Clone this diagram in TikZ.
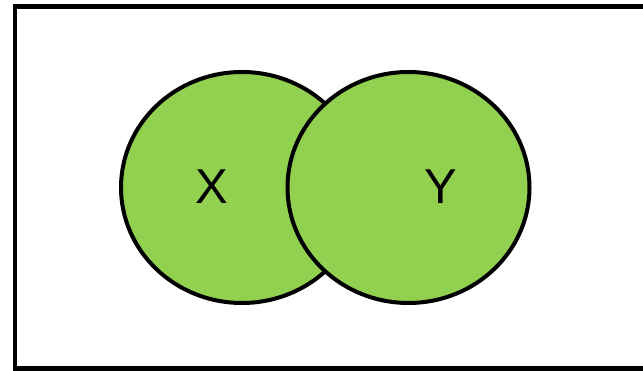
\documentclass[tikz,border=0pt]{standalone}
\usepackage{fontspec}
\setmainfont{Liberation Sans}
\usetikzlibrary{shapes.geometric}
\definecolor{setgreen}{HTML}{92D050}

\begin{document}
\begin{tikzpicture}[x=1pt, y=1pt,
	setshape/.style={ellipse, draw=black, line width=4pt, fill=setgreen, minimum width=242pt, minimum height=231pt, inner sep=0pt},
	setlabel/.style={anchor=base, inner sep=0pt, font=\fontsize{49}{49}\selectfont}]
	\useasboundingbox (0,0) rectangle (643,371);
	\clip (0,0) rectangle (643,371);
	\draw[line width=4.5pt] (15,2.5) rectangle (660,364.5);
	\node[setshape] (setX) at (242,183.5) {};
	\node[setshape] (setY) at (408.5,183.5) {};
	\node[setlabel] (labX) at (212,167) {X};
	\node[setlabel] (labY) at (441,167) {Y};
\end{tikzpicture}
\end{document}
